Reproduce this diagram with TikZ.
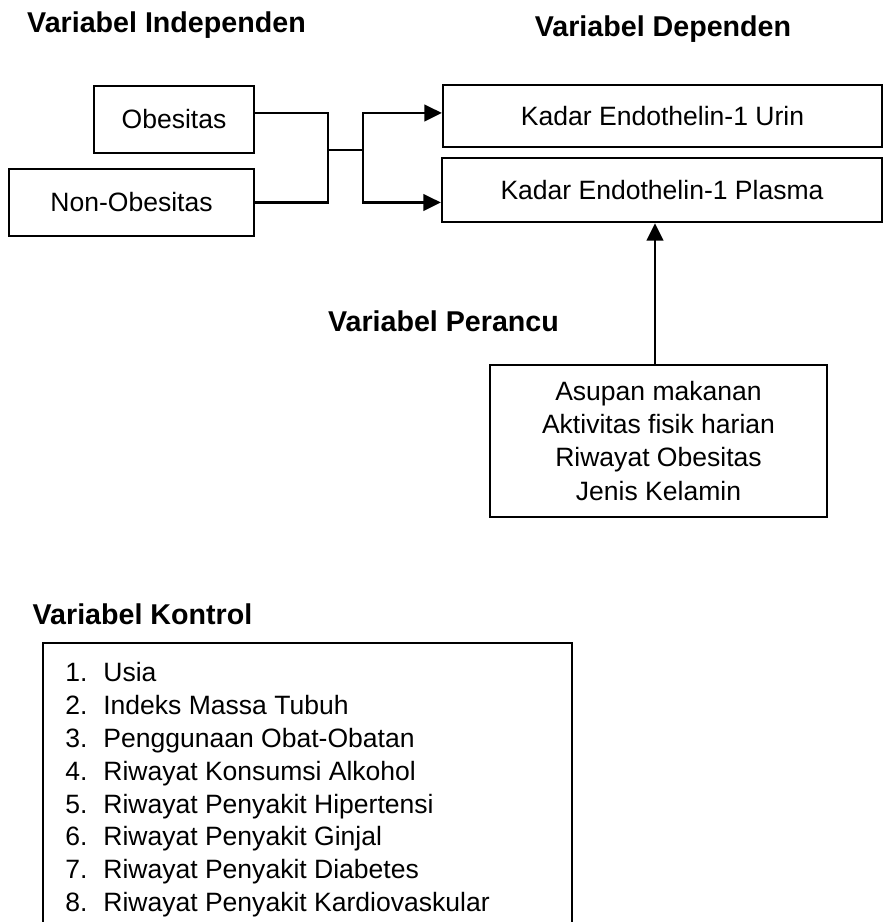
\documentclass[tikz,border=0pt]{standalone}
\usepackage{fontspec}
\setmainfont{Liberation Sans}
\usetikzlibrary{positioning,arrows.meta,calc}

\begin{document}
\begin{tikzpicture}[x=0.02cm,y=0.02cm,
  box/.style={draw,line width=1.35pt,inner sep=0pt,align=center,font=\fontsize{15.1}{18.8}\selectfont},
  head/.style={inner sep=0pt,font=\fontsize{16.3}{19}\selectfont\bfseries},
  item/.style={anchor=base west,inner sep=0pt,font=\fontsize{15.1}{18.8}\selectfont},
  line/.style={line width=1.35pt},
  arr/.style={line width=1.35pt,-{Triangle[length=10pt,width=9.5pt]}}]
  \useasboundingbox (0,0) rectangle (885,922);

  \node[head] (h_ind) at (166.5,897) {Variabel Independen};
  \node[head] (h_dep) at (663,893) {Variabel Dependen};
  \node[head] (h_per) at (443.5,601) {Variabel Perancu};
  \node[head] (h_kon) at (142.5,308) {Variabel Kontrol};

  \node[box,minimum width=3.2cm,minimum height=1.34cm] (obes) at (174,802.5) {Obesitas};
  \node[box,minimum width=4.9cm,minimum height=1.34cm] (nonobes) at (131.5,719.5) {Non-Obesitas};
  \node[box,minimum width=8.78cm,minimum height=1.24cm] (urin) at (662.5,806) {Kadar Endothelin-1 Urin};
  \node[box,minimum width=8.8cm,minimum height=1.28cm] (plasma) at (662,732) {Kadar Endothelin-1 Plasma};
  \node[box,minimum width=6.74cm,minimum height=3.04cm] (perancu) at (658.5,481)
    {Asupan makanan\\Aktivitas fisik harian\\Riwayat Obesitas\\Jenis Kelamin};
  \node[box,minimum width=10.58cm,minimum height=5.74cm] (kontrol) at (307.5,135.5) {};

  \coordinate (obout) at ([yshift=3.7pt]obes.east);
  \coordinate (merge) at (328,772);
  \coordinate (split) at (363,772);

  \draw[line] (obout) -| (merge) |- (nonobes.east);
  \draw[line] (merge) -- (split);
  \draw[arr] (split) |- (urin.west |- obout);
  \draw[arr] (split) |- (plasma.west |- nonobes.east);
  \draw[arr] ([xshift=-2pt]perancu.north) -- ([xshift=-2pt]perancu.north |- plasma.south);

  \foreach \t [count=\i] in {Usia, Indeks Massa Tubuh, Penggunaan Obat-Obatan,
      Riwayat Konsumsi Alkohol, Riwayat Penyakit Hipertensi, Riwayat Penyakit Ginjal,
      Riwayat Penyakit Diabetes, Riwayat Penyakit Kardiovaskular} {
    \node[item] (no\i) at (65,{240.5-32.9*(\i-1)}) {\i.};
    \node[item] (it\i) at (103,{240.5-32.9*(\i-1)}) {\t};
  }
\end{tikzpicture}
\end{document}
